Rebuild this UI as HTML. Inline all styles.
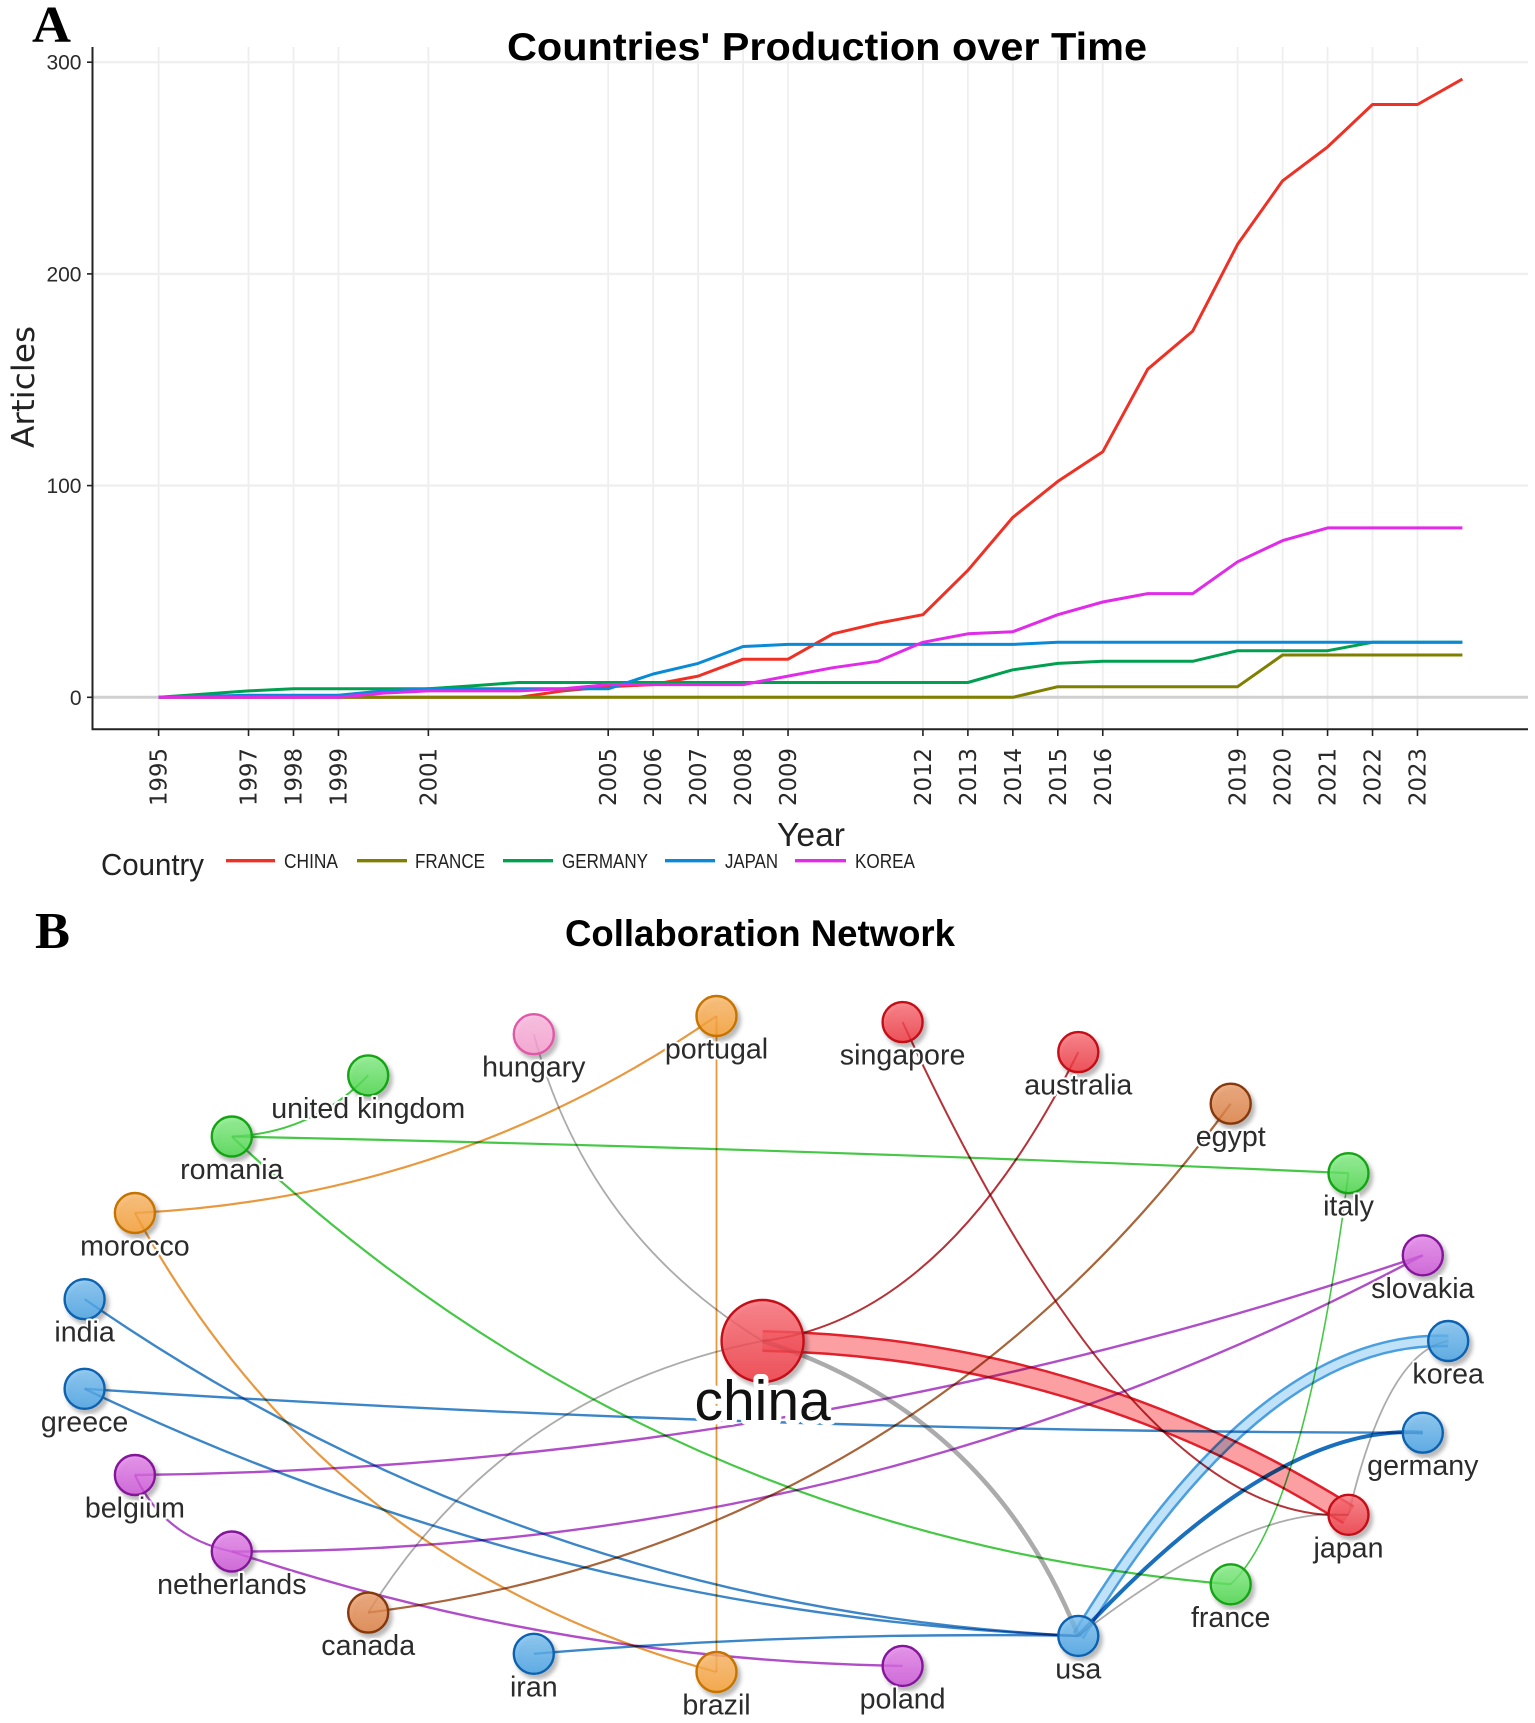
<!DOCTYPE html>
<html lang="en">
<head>
<meta charset="utf-8">
<title>Countries' Production over Time and Collaboration Network</title>
<style>
html,body{margin:0;padding:0;background:#fff;}
svg{display:block;font-family:"Liberation Sans",sans-serif;}
</style>
</head>
<body>
<svg id="figure" xmlns="http://www.w3.org/2000/svg" width="1535" height="1723" viewBox="0 0 1535 1723">
  <defs>
    <filter id="node-shadow" x="-40%" y="-40%" width="190%" height="190%">
      <feDropShadow dx="3" dy="4" stdDeviation="2.2" flood-color="#000" flood-opacity="0.33"/>
    </filter>
    <linearGradient id="grad-red" x1="0" y1="0" x2="0" y2="1"><stop offset="0" stop-color="#fb7078"/><stop offset="1" stop-color="#f0303a"/></linearGradient>
    <linearGradient id="grad-green" x1="0" y1="0" x2="0" y2="1"><stop offset="0" stop-color="#86ee86"/><stop offset="1" stop-color="#44d644"/></linearGradient>
    <linearGradient id="grad-orange" x1="0" y1="0" x2="0" y2="1"><stop offset="0" stop-color="#fbb86a"/><stop offset="1" stop-color="#f79c2c"/></linearGradient>
    <linearGradient id="grad-pink" x1="0" y1="0" x2="0" y2="1"><stop offset="0" stop-color="#fbb8de"/><stop offset="1" stop-color="#f79ccf"/></linearGradient>
    <linearGradient id="grad-blue" x1="0" y1="0" x2="0" y2="1"><stop offset="0" stop-color="#7cc0f0"/><stop offset="1" stop-color="#419fe4"/></linearGradient>
    <linearGradient id="grad-purple" x1="0" y1="0" x2="0" y2="1"><stop offset="0" stop-color="#e484ea"/><stop offset="1" stop-color="#cb50d6"/></linearGradient>
    <linearGradient id="grad-brown" x1="0" y1="0" x2="0" y2="1"><stop offset="0" stop-color="#eb9c68"/><stop offset="1" stop-color="#dc7c3e"/></linearGradient>
  </defs>

  <g id="grid"></g>
  <g id="series"></g>
  <g id="axes"></g>

  <text x="32" y="42" font-family="'Liberation Serif',serif" font-weight="700" font-size="52" fill="#000" textLength="39" lengthAdjust="spacingAndGlyphs">A</text>
  <text x="507" y="60" font-weight="700" font-size="39" fill="#000" textLength="640" lengthAdjust="spacingAndGlyphs">Countries' Production over Time</text>

  <text transform="translate(34,448) rotate(-90)" font-family="'DejaVu Sans',sans-serif" font-size="31" fill="#222" textLength="122" lengthAdjust="spacingAndGlyphs">Articles</text>
  <text x="777" y="846" font-size="33" fill="#222" textLength="68" lengthAdjust="spacingAndGlyphs">Year</text>

  <g>
    <text x="101" y="875" font-size="31" fill="#222" textLength="103" lengthAdjust="spacingAndGlyphs">Country</text>
    <g>
      <line x1="226" y1="860.7" x2="275" y2="860.7" stroke="#ee3124" stroke-width="3.4"/>
      <text x="284" y="868" font-size="20" fill="#222" textLength="54" lengthAdjust="spacingAndGlyphs">CHINA</text>
    </g>
    <g>
      <line x1="357" y1="860.7" x2="407" y2="860.7" stroke="#7f7f00" stroke-width="3.4"/>
      <text x="415" y="868" font-size="20" fill="#222" textLength="70" lengthAdjust="spacingAndGlyphs">FRANCE</text>
    </g>
    <g>
      <line x1="503" y1="860.7" x2="553" y2="860.7" stroke="#00a050" stroke-width="3.4"/>
      <text x="562" y="868" font-size="20" fill="#222" textLength="86" lengthAdjust="spacingAndGlyphs">GERMANY</text>
    </g>
    <g>
      <line x1="665" y1="860.7" x2="715" y2="860.7" stroke="#0a8ad6" stroke-width="3.4"/>
      <text x="725" y="868" font-size="20" fill="#222" textLength="53" lengthAdjust="spacingAndGlyphs">JAPAN</text>
    </g>
    <g>
      <line x1="795" y1="860.7" x2="846" y2="860.7" stroke="#e02be8" stroke-width="3.4"/>
      <text x="855" y="868" font-size="20" fill="#222" textLength="60" lengthAdjust="spacingAndGlyphs">KOREA</text>
    </g>
  </g>

  <text x="35" y="948" font-family="'Liberation Serif',serif" font-weight="700" font-size="52" fill="#000" textLength="35" lengthAdjust="spacingAndGlyphs">B</text>
  <text x="565" y="946" font-weight="700" font-size="37" fill="#000" textLength="390" lengthAdjust="spacingAndGlyphs">Collaboration Network</text>

  <g id="edges"></g>
  <g id="nodes"></g>
  <g id="labels"></g>
</svg>

<script>
/* ---------- Chart A data ---------- */
const years = [1995,1996,1997,1998,1999,2000,2001,2002,2003,2004,2005,2006,2007,2008,2009,2010,2011,2012,2013,2014,2015,2016,2017,2018,2019,2020,2021,2022,2023,2024];
const chinaArticles   = [0,0,0,0,0,0,0,0,0,3,5,6,10,18,18,30,35,39,60,85,102,116,155,173,214,244,260,280,280,292];
const franceArticles  = [0,0,0,0,0,0,0,0,0,0,0,0,0,0,0,0,0,0,0,0,5,5,5,5,5,20,20,20,20,20];
const germanyArticles = [0,1.5,3,4,4,4,4,5.5,7,7,7,7,7,7,7,7,7,7,7,13,16,17,17,17,22,22,22,26,26,26];
const japanArticles   = [0,0.5,1,1,1,3,4,4,4,4,4,11,16,24,25,25,25,25,25,25,26,26,26,26,26,26,26,26,26,26];
const koreaArticles   = [0,0,0,0,0,2,3,3,3,4,6,6,6,6,10,14,17,26,30,31,39,45,49,49,64,74,80,80,80,80];
const seriesNames = ["china","france","germany","japan","korea"];
const xTickYears = [1995,1997,1998,1999,2001,2005,2006,2007,2008,2009,2012,2013,2014,2015,2016,2019,2020,2021,2022,2023];
const yTickValues = [0,100,200,300];

/* ---------- Network data ---------- */
const ringNames  = ["korea","germany","japan","france","usa","poland","brazil","iran","canada","netherlands","belgium","greece","india","morocco","romania","united kingdom","hungary","portugal","singapore","australia","egypt","italy","slovakia"];
const ringGroups = ["blue","blue","red","green","blue","purple","orange","blue","brown","purple","purple","blue","blue","orange","green","green","pink","orange","red","red","brown","green","purple"];
const edgeFrom    = ["china","china","hungary","canada","china","singapore","japan","usa","usa","usa","iran","india","greece","greece","morocco","morocco","portugal","romania","romania","romania","france","canada","belgium","netherlands","belgium","netherlands"];
const edgeTo      = ["usa","japan","china","china","australia","japan","korea","japan","korea","germany","usa","usa","usa","germany","portugal","brazil","brazil","united kingdom","italy","france","italy","egypt","slovakia","slovakia","netherlands","poland"];
const edgeWeights = [4.5,22,1.8,1.8,2,2,1.8,1.8,13,4,2.4,2.4,2.4,2.4,2.2,2.2,1.8,2,2.2,2.2,1.6,2.2,2.4,2.4,2.2,2.4];
const edgeCurves  = [-0.235,-0.138,0.20,-0.216,0.25,0.25,-0.24,-0.17,-0.257,-0.21,-0.025,0.143,0.103,0.016,0.143,0.213,0,0.2,-0.006,0.175,0.12,0.215,0.08,0.126,0.25,0.077];
const edgeSkews   = [0,0,0,0,-0.15,0.3,0.3,0.2,0.2,0.2,0,0,0,0,0,0,0,0,0,0,-0.3,0,0,0,0,0];

/* ---------- Scales ---------- */
function xScale(year){ return 158.6 + (year - 1995) * 44.96; }
function yScale(value){ return 697.3 - value * 2.117; }
function ringX(index){ return 763.2 + 685 * Math.cos(index * 2 * Math.PI / ringNames.length); }
function ringY(index){ return 1344 + 328.8 * Math.sin(index * 2 * Math.PI / ringNames.length); }
function nodePos(name){
  if(name === "china"){ return {x:762.6, y:1341}; }
  const i = ringNames.indexOf(name);
  return {x:ringX(i), y:ringY(i) - (name === "korea" ? 3 : 0)};
}

const NS = "http://www.w3.org/2000/svg";
function make(tag, parent){
  const el = document.createElementNS(NS, tag);
  parent.appendChild(el);
  return el;
}

/* ---------- Grid ---------- */
const grid = document.getElementById("grid");
xTickYears.forEach(function(y){
  const l = make("line", grid);
  
  
  l.setAttribute("x1", xScale(y)); l.setAttribute("x2", xScale(y));
  l.setAttribute("y1", 47); l.setAttribute("y2", 729);
  l.setAttribute("stroke", "#eeeeee"); l.setAttribute("stroke-width", 1.8);
});
yTickValues.forEach(function(v){
  const l = make("line", grid);
  
  
  l.setAttribute("x1", 93); l.setAttribute("x2", 1528);
  l.setAttribute("y1", yScale(v)); l.setAttribute("y2", yScale(v));
  l.setAttribute("stroke", v === 0 ? "#d0d0d0" : "#efefef"); l.setAttribute("stroke-width", v === 0 ? 3 : 2.4);
});

/* ---------- Series ---------- */
const seriesGroup = document.getElementById("series");
const seriesValues = [chinaArticles, franceArticles, germanyArticles, japanArticles, koreaArticles];
const seriesColors = ["#ee3124","#7f7f00","#00a050","#0a8ad6","#e02be8"];
seriesValues.forEach(function(vals, s){
  const p = make("polyline", seriesGroup);
  
  
  p.setAttribute("data-series", seriesNames[s]);
  p.setAttribute("points", vals.map(function(v, i){ return xScale(years[i]).toFixed(1) + "," + yScale(v).toFixed(1); }).join(" "));
  p.setAttribute("fill", "none");
  p.setAttribute("stroke", seriesColors[s]);
  p.setAttribute("stroke-width", 3);
  p.setAttribute("stroke-linejoin", "round");
});

/* ---------- Axes ---------- */
const axes = document.getElementById("axes");
const yAxisLine = make("line", axes);


yAxisLine.setAttribute("x1", 92.5); yAxisLine.setAttribute("x2", 92.5);
yAxisLine.setAttribute("y1", 47); yAxisLine.setAttribute("y2", 730);
yAxisLine.setAttribute("stroke", "#222"); yAxisLine.setAttribute("stroke-width", 2);
const xAxisLine = make("line", axes);


xAxisLine.setAttribute("x1", 91.5); xAxisLine.setAttribute("x2", 1528);
xAxisLine.setAttribute("y1", 729.3); xAxisLine.setAttribute("y2", 729.3);
xAxisLine.setAttribute("stroke", "#222"); xAxisLine.setAttribute("stroke-width", 2);

yTickValues.forEach(function(v){
  const t = make("line", axes);
  
  
  t.setAttribute("x1", 87); t.setAttribute("x2", 92);
  t.setAttribute("y1", yScale(v)); t.setAttribute("y2", yScale(v));
  t.setAttribute("stroke", "#222"); t.setAttribute("stroke-width", 1.6);
  const lab = make("text", axes);
  
  
  lab.setAttribute("x", 81.5); lab.setAttribute("y", yScale(v) + 7.5);
  lab.setAttribute("text-anchor", "end");
  lab.setAttribute("font-size", 21); lab.setAttribute("fill", "#2a2a2a");
  lab.textContent = String(v);
});
xTickYears.forEach(function(y){
  const t = make("line", axes);
  
  
  t.setAttribute("x1", xScale(y)); t.setAttribute("x2", xScale(y));
  t.setAttribute("y1", 730); t.setAttribute("y2", 736);
  t.setAttribute("stroke", "#222"); t.setAttribute("stroke-width", 1.6);
  const lab = make("text", axes);
  
  
  lab.setAttribute("transform", "translate(" + (xScale(y) + 8) + ",748) rotate(-90)");
  lab.setAttribute("text-anchor", "end");
  lab.setAttribute("font-family", "'DejaVu Sans',sans-serif");
  lab.setAttribute("font-size", 22.8); lab.setAttribute("fill", "#2a2a2a");
  lab.textContent = String(y);
});

/* ---------- Network ---------- */
const groupEdgeColors = {red:"#b53238",green:"#46c846",orange:"#e8983e",pink:"#e58ac0",blue:"#3c86c8",purple:"#b04ec8",brown:"#a8643a"};
const groupWideColors = {red:["#e0202a","#fb9fa3"],blue:["#4a9fe0","#bfe2f8"]};
const groupStrokes = {red:"#c40f18",green:"#17a417",orange:"#c67300",pink:"#e058a8",blue:"#0a62b0",purple:"#84189a",brown:"#86380e"};
function groupOf(name){
  if(name === "china"){ return "red"; }
  return ringGroups[ringNames.indexOf(name)];
}
function edgePath(a, b, curve, skew){
  const p = nodePos(a), q = nodePos(b);
  const dx = q.x - p.x, dy = q.y - p.y;
  const cx = p.x + dx * (0.5 + skew) - dy * curve;
  const cy = p.y + dy * (0.5 + skew) + dx * curve;
  return "M" + p.x.toFixed(1) + " " + p.y.toFixed(1) + " Q" + cx.toFixed(1) + " " + cy.toFixed(1) + " " + q.x.toFixed(1) + " " + q.y.toFixed(1);
}

const edgesGroup = document.getElementById("edges");
edgeFrom.forEach(function(a, i){
  const b = edgeTo[i];
  const same = groupOf(a) === groupOf(b);
  const w = edgeWeights[i];
  const d = edgePath(a, b, edgeCurves[i], edgeSkews[i]);
  const g = make("g", edgesGroup);
  
  
  g.setAttribute("style", "mix-blend-mode:multiply");
  g.setAttribute("data-edge", a + "-" + b);
  const outer = make("path", g);
  outer.setAttribute("d", d);
  outer.setAttribute("fill", "none");
  outer.setAttribute("stroke-linecap", "butt");
  outer.setAttribute("stroke-width", w);
  if(w >= 10 && same){
    outer.setAttribute("stroke", groupWideColors[groupOf(a)][0]);
    const inner = make("path", g);
    inner.setAttribute("d", d);
    inner.setAttribute("fill", "none");
    inner.setAttribute("stroke", groupWideColors[groupOf(a)][1]);
    inner.setAttribute("stroke-width", w - 5);
  } else if(w === 4 && same){
    outer.setAttribute("stroke", "#1a6fbd");
  } else {
    outer.setAttribute("stroke", same ? groupEdgeColors[groupOf(a)] : "#ababab");
  }
});

const nodesGroup = document.getElementById("nodes");
const labelsGroup = document.getElementById("labels");
["china"].concat(ringNames).forEach(function(name){
  const pos = nodePos(name);
  const big = name === "china";
  const group = groupOf(name);
  const c = make("circle", nodesGroup);
  
  
  c.setAttribute("data-country", name);
  c.setAttribute("cx", pos.x.toFixed(1));
  c.setAttribute("cy", pos.y.toFixed(1));
  c.setAttribute("r", big ? 41 : 20);
  c.setAttribute("fill", "url(#grad-" + group + ")");
  c.setAttribute("fill-opacity", 0.78);
  c.setAttribute("stroke", groupStrokes[group]);
  c.setAttribute("stroke-width", 2.4);
  c.setAttribute("filter", "url(#node-shadow)");

  const t = make("text", labelsGroup);
  
  
  t.setAttribute("x", pos.x.toFixed(1));
  t.setAttribute("y", (pos.y + (big ? 79 : 42.5)).toFixed(1));
  t.setAttribute("text-anchor", "middle");
  t.setAttribute("font-size", big ? 57 : 28.6);
  t.setAttribute("fill", big ? "#111" : "#2b2b2b");
  t.setAttribute("stroke", "#fff");
  t.setAttribute("stroke-width", big ? 10 : 4);
  t.setAttribute("stroke-linejoin", "round");
  t.setAttribute("paint-order", "stroke");
  t.textContent = name;
});
</script>
</body>
</html>
